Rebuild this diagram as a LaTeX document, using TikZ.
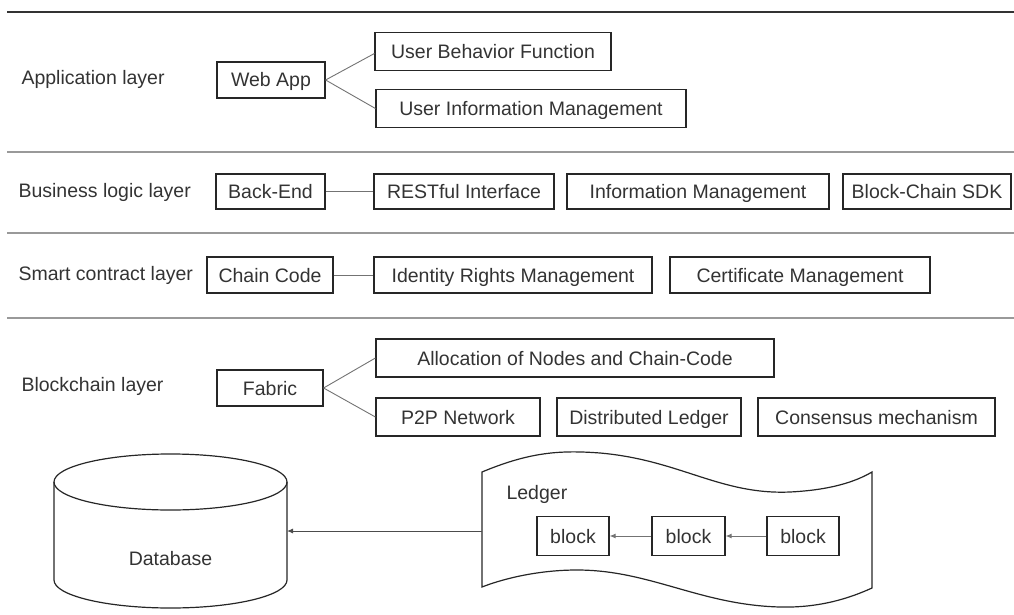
\documentclass[tikz,border=0pt]{standalone}
\usepackage{fontspec}
\setmainfont{Liberation Sans}
\usetikzlibrary{arrows.meta,shapes.geometric}
\begin{document}
\begin{tikzpicture}[x=1pt,y=-1pt,
  txt/.style={font=\fontsize{19.5}{22}\selectfont, text=black!80},
  bx/.style={draw=black!85, line width=1.2pt, font=\fontsize{19.5}{22}\selectfont, text=black!80, inner sep=0pt, text height=16pt, text depth=2pt},
  sep/.style={draw=black!40, line width=1.8pt},
  conn/.style={draw=black!55, line width=0.9pt},
  arr/.style={draw=black!55, line width=0.9pt, -{Latex[length=6pt,width=5pt]}}
]
\useasboundingbox (0,0) rectangle (1014,615);
% separators
\draw[draw=black!80, line width=1.3pt] (7,12) -- (1014,12);
\draw[sep] (7,152) -- (1014,152);
\draw[sep] (7,233) -- (1014,233);
\draw[sep] (7,318) -- (1014,318);

% Application layer
\node[txt, anchor=west] (lapp) at (18,79) {Application layer};
\node[bx, minimum width=108, minimum height=36] (web) at (271,80) {Web App};
\node[bx, minimum width=236, minimum height=38] (ubf) at (493,51.5) {User Behavior Function};
\node[bx, minimum width=310, minimum height=38] (uim) at (531,108.5) {User Information Management};
\draw[conn] (web.east) -- ([yshift=-2]ubf.west);
\draw[conn] (web.east) -- (uim.west);

% Business logic layer
\node[txt, anchor=west] (lbus) at (15,192) {Business logic layer};
\node[bx, minimum width=109, minimum height=35] (be) at (270.5,191.5) {Back-End};
\node[bx, minimum width=180, minimum height=35] (rest) at (464,191.5) {RESTful Interface};
\node[bx, minimum width=262, minimum height=35] (im) at (698,191.5) {Information Management};
\node[bx, minimum width=168, minimum height=35] (sdk) at (927,191.5) {Block-Chain SDK};
\draw[conn] (be) -- (rest);

% Smart contract layer
\node[txt, anchor=west] (lsc) at (15,275) {Smart contract layer};
\node[bx, minimum width=126, minimum height=36] (cc) at (270,275) {Chain Code};
\node[bx, minimum width=278, minimum height=36] (irm) at (513,275) {Identity Rights Management};
\node[bx, minimum width=260, minimum height=36] (cm) at (800,275) {Certificate Management};
\draw[conn] (cc) -- (irm);

% Blockchain layer
\node[txt, anchor=west] (lbc) at (18,386) {Blockchain layer};
\node[bx, minimum width=106, minimum height=36] (fab) at (270,388) {Fabric};
\node[bx, minimum width=398, minimum height=38] (alloc) at (575,358) {Allocation of Nodes and Chain-Code};
\node[bx, minimum width=164, minimum height=38] (p2p) at (458,417) {P2P Network};
\node[bx, minimum width=184, minimum height=38] (dl) at (649,417) {Distributed Ledger};
\node[bx, minimum width=237, minimum height=38] (cons) at (876.5,417) {Consensus mechanism};
\draw[conn] (fab.east) -- (alloc.west);
\draw[conn] (fab.east) -- (p2p.west);

% Database cylinder
\draw[draw=black!85, line width=1.2pt] (54,482) -- (54,580)
  arc[start angle=180, end angle=0, x radius=116.5, y radius=28] -- (287,482);
\draw[draw=black!85, line width=1.2pt] (170.5,482) ellipse[x radius=116.5, y radius=28];
\node[txt] (db) at (170.5,559) {Database};
\coordinate (dbr) at (287,531);

% Ledger tape shape
\draw[draw=black!85, line width=1.2pt]
  (482,472) .. controls (530,452) and (560,450) .. (600,453)
  .. controls (680,460) and (720,495) .. (790,492)
  .. controls (830,490) and (855,482) .. (872,472)
  -- (872,588)
  .. controls (850,598) and (820,608) .. (780,607)
  .. controls (700,605) and (650,570) .. (577,570)
  .. controls (540,570) and (505,578) .. (482,587) -- cycle;
\coordinate (ledl) at (482,531);
\node[txt, anchor=west] (led) at (503,494) {Ledger};
\node[bx, minimum width=72, minimum height=39] (b1) at (573,536) {block};
\node[bx, minimum width=73, minimum height=39] (b2) at (688.5,536) {block};
\node[bx, minimum width=72, minimum height=39] (b3) at (803,536) {block};
\draw[arr] (b3) -- (b2);
\draw[arr] (b2) -- (b1);
\draw[arr, draw=black!70] (ledl) -- (dbr);
\end{tikzpicture}
\end{document}
